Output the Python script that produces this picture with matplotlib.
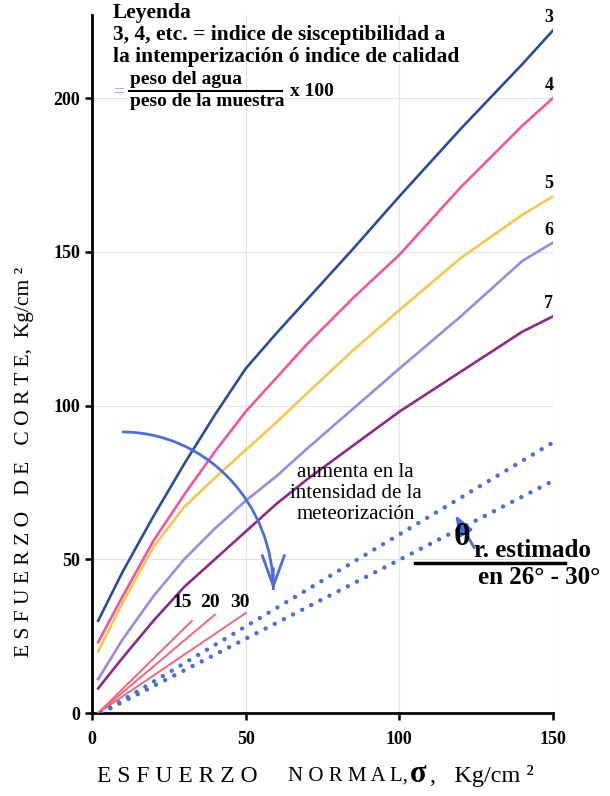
import matplotlib.pyplot as plt
from matplotlib.patches import Arc

plt.rcParams['font.family'] = ['Liberation Serif', 'DejaVu Serif']

# esfuerzo normal (Kg/cm2) where the curves were read
x_curve = [2, 10, 20, 30, 40, 50, 60, 70, 85, 100, 120, 140, 150]
# esfuerzo de corte (Kg/cm2), indice de calidad 3..7
corte_3 = [30, 46, 64, 81, 97, 112, 123.5, 134.5, 151, 168, 190, 211, 222]
corte_4 = [23, 38, 56, 71, 85, 98, 109, 120, 135, 149, 171, 191, 200]
corte_5 = [20, 36, 54, 67, 76.5, 85.5, 94.5, 104, 118, 131, 148, 162, 168]
corte_6 = [11, 24, 38, 50, 60, 69, 77, 86, 99, 112, 129, 147, 153]
corte_7 = [8, 18, 30, 41, 50, 59, 68, 76, 87, 98, 111, 124, 129]
curves = [corte_3, corte_4, corte_5, corte_6, corte_7]
curve_labels = ['3', '4', '5', '6', '7']
curve_colors = ['#2d4b9e', '#ee579f', '#f3c850', '#9a8ae4', '#8c2a86']

# red straight lines 15, 20, 30
red_labels = ['15', '20', '30']
red_x = [[2, 32.5], [2, 40], [2, 50]]
red_y = [[0, 30], [0, 32], [0, 32.5]]
red_label_x = [29.5, 38.5, 48]
red_label_y = 35.8

# dotted lines (theta r estimado 26 - 30 deg)
dot_x = [3, 150]
dot_upper = [0, 88]
dot_lower = [0, 75.5]

blue = '#4a6fd8'

fig = plt.figure(figsize=(6.1, 7.96), dpi=100)
ax = fig.add_axes([92 / 610, 1 - 713 / 796, (553 - 92) / 610, (713 - 15) / 796])

for vals, lab, col in zip(curves, curve_labels, curve_colors):
    ax.plot(x_curve, vals, color=col, lw=1.9, zorder=3)
    ax.annotate(lab, (x_curve[-1], vals[-1]), xytext=(-3, 9),
                textcoords='offset points', ha='center', va='center',
                fontsize=13, fontweight='bold', annotation_clip=False)

for xs, ys in zip(red_x, red_y):
    ax.plot(xs, ys, color='#f0667a', lw=1.4, zorder=3)
for lab, lx in zip(red_labels, red_label_x):
    ax.text(lx, red_label_y, lab, ha='center', va='center',
            fontsize=14, fontweight='bold')

for ys in (dot_upper, dot_lower):
    ax.plot(dot_x, ys, color=blue, lw=3.2, ls=(0, (0.01, 2.3)),
            dash_capstyle='round', zorder=3)

# curved arrow: aumenta la meteorizacion
ax.add_patch(Arc((9.8, 40), 98.4, 102.8, theta1=0, theta2=90,
                 color=blue, lw=2, zorder=4))
ax.annotate('', xy=(59, 40), xytext=(59, 47),
            arrowprops=dict(arrowstyle='->,head_length=1.1,head_width=0.4',
                            color=blue, lw=2, mutation_scale=20, shrinkA=0, shrinkB=0))
ax.text(85.7, 71.5, 'aumenta en la\nintensidad de la\nmeteorización',
        ha='center', va='center', fontsize=15, linespacing=1.15, zorder=5)

# theta r estimado
ax.plot([105.2, 154], [48.8, 48.8], color='black', lw=2.5, zorder=4, clip_on=False)
ax.annotate('', xy=(118.2, 64.4), xytext=(124.4, 53.7),
            arrowprops=dict(arrowstyle='-|>,head_length=0.8,head_width=0.3',
                            color=blue, lw=2, mutation_scale=15, shrinkA=0, shrinkB=0))
ax.text(120.5, 57, 'θ', ha='center', va='center', fontsize=23, fontweight='bold')
ax.text(124.2, 53, 'r. estimado', ha='left', va='center', fontsize=18,
        fontweight='bold', clip_on=False)
ax.text(125.7, 44.2, 'en 26° - 30°', ha='left', va='center', fontsize=18,
        fontweight='bold', clip_on=False)

ax.set_xlim(0, 150)
ax.set_ylim(0, 227)
ax.set_xticks([0, 50, 100, 150])
ax.set_yticks([0, 50, 100, 150, 200])
ax.grid(color='#e3e3e3', lw=0.8)
ax.set_axisbelow(True)
for s in ('top', 'right'):
    ax.spines[s].set_visible(False)
for s in ('left', 'bottom'):
    ax.spines[s].set_linewidth(2)
ax.tick_params(direction='out', length=5, width=1.8, labelsize=13)
ax.tick_params(axis='x', pad=8)
for lbl in ax.get_xticklabels() + ax.get_yticklabels():
    lbl.set_fontweight('bold')

# axis titles
fig.text(25 / 610, 1 - 462 / 796, 'E S F U E R Z O   D E   C O R T E,  Kg/cm ²',
         rotation=90, ha='center', va='center', fontsize=15.5)
fig.text(97 / 610, 1 - 776 / 796, 'E S F U E R Z O', ha='left', va='center', fontsize=17)
fig.text(288 / 610, 1 - 776 / 796, 'N O R M A L,', ha='left', va='center', fontsize=15)
fig.text(418 / 610, 1 - 774 / 796, 'σ', ha='center', va='center',
         fontsize=22, fontweight='bold')
fig.text(430 / 610, 1 - 776 / 796, ',   Kg/cm ²', ha='left', va='center', fontsize=17.5)

# legend box text
leg_x = 113 / 610
fig.text(leg_x, 1 - 13 / 796, 'Leyenda', ha='left', va='center',
         fontsize=15.5, fontweight='bold')
fig.text(leg_x, 1 - 35 / 796, '3, 4, etc. = indice de sisceptibilidad a',
         ha='left', va='center', fontsize=15.5, fontweight='bold')
fig.text(leg_x, 1 - 57 / 796, 'la intemperización ó indice de calidad',
         ha='left', va='center', fontsize=15.5, fontweight='bold')
fig.text(119 / 610, 1 - 92 / 796, '=', ha='center', va='center',
         fontsize=14, color='#7fa0e0')
fig.text(130 / 610, 1 - 80 / 796, 'peso del agua', ha='left', va='center',
         fontsize=14, fontweight='bold')
fig.text(130 / 610, 1 - 102 / 796, 'peso de la muestra', ha='left', va='center',
         fontsize=14, fontweight='bold')
fig.add_artist(plt.Line2D([129 / 610, 282 / 610], [1 - 91 / 796, 1 - 91 / 796],
                          color='black', lw=1.5))
fig.text(290 / 610, 1 - 92 / 796, 'x 100', ha='left', va='center',
         fontsize=14, fontweight='bold')

fig.savefig('out.png', dpi=100)
